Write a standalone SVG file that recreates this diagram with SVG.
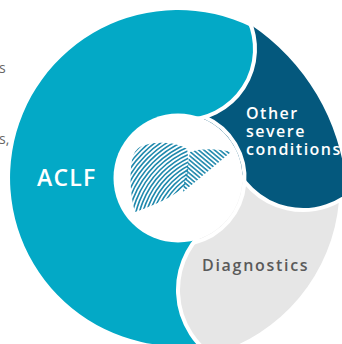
<svg xmlns="http://www.w3.org/2000/svg" width="342" height="344" viewBox="0 0 342 344">
  <style>
    .gap { fill: none; stroke: #ffffff; stroke-width: 4; }
    .lbl { font-family: "Open Sans", "Liberation Sans", sans-serif; font-weight: 600; }
    .side { font-family: "Open Sans", "Liberation Sans", sans-serif; font-size: 14px; fill: #666666; }
    .stripe { fill: none; stroke: #2089ad; stroke-width: 1.6; }
  </style>
  <defs>
    <clipPath id="bigLobeClip">
      <path d="M 140 147 C 152 141 175 141 187 149 C 189 160 189 175 185 186 C 172 198 152 206 135 212 C 130 195 129 170 133 156 C 135 151 137 149 140 147 Z"/>
    </clipPath>
    <pattern id="hatch" width="4" height="3.4" patternUnits="userSpaceOnUse" patternTransform="rotate(40)">
      <rect x="0" y="0" width="4" height="1.6" fill="#2089ad"/>
    </pattern>
  </defs>
  <rect width="342" height="344" fill="#ffffff"/>

  <g id="side-texts">
    <text class="side" x="-1" y="73">s</text>
    <text class="side" x="-1" y="144">s,</text>
  </g>

  <g id="aclf">
    <path fill="#03a9c6" d="M 251.5 26.9 A 168 168 0 1 0 199.6 344.6 A 80 80 0 0 1 212.1 224.5 L 178 178 L 184 120 A 71 71 0 0 0 251.5 26.9 Z"/>
  </g>
  <g id="other-severe-conditions">
    <path fill="#04587d" d="M 184 120 A 71 71 0 0 0 250.7 24.65 A 217 217 0 0 1 346.2 186.1 L 355.3 188.3 A 74 74 0 0 1 231.5 155.2 L 178 178 Z"/>
  </g>
  <g id="diagnostics">
    <path fill="#e6e6e6" d="M 178 178 L 231.5 155.2 A 74 74 0 0 0 339.0 200.7 A 174.6 174.6 0 0 1 210.8 354.5 A 80 80 0 0 1 212.1 224.5 Z"/>
  </g>

  <g id="connectors">
    <path class="gap" d="M 248.86 20.12 A 71 71 0 0 1 184 120"/>
    <path class="gap" d="M 231.5 155.2 A 74 74 0 0 0 359.7 183.6"/>
    <path class="gap" d="M 212.1 224.5 A 80 80 0 0 0 218 359.3"/>
    <path class="gap" d="M 204.5 117 A 66.5 66.5 0 0 1 193.5 242.7"/>
  </g>

  <g id="liver-center">
    <circle cx="178" cy="178" r="64.5" fill="#ffffff"/>
    <g clip-path="url(#bigLobeClip)">
      <circle class="stripe" cx="225" cy="235" r="58"/>
      <circle class="stripe" cx="225" cy="235" r="61.4"/>
      <circle class="stripe" cx="225" cy="235" r="64.8"/>
      <circle class="stripe" cx="225" cy="235" r="68.2"/>
      <circle class="stripe" cx="225" cy="235" r="71.6"/>
      <circle class="stripe" cx="225" cy="235" r="75"/>
      <circle class="stripe" cx="225" cy="235" r="78.4"/>
      <circle class="stripe" cx="225" cy="235" r="81.8"/>
      <circle class="stripe" cx="225" cy="235" r="85.2"/>
      <circle class="stripe" cx="225" cy="235" r="88.6"/>
      <circle class="stripe" cx="225" cy="235" r="92"/>
      <circle class="stripe" cx="225" cy="235" r="95.4"/>
      <circle class="stripe" cx="225" cy="235" r="98.8"/>
      <circle class="stripe" cx="225" cy="235" r="102.2"/>
      <circle class="stripe" cx="225" cy="235" r="105.6"/>
      <circle class="stripe" cx="225" cy="235" r="109"/>
      <circle class="stripe" cx="225" cy="235" r="112.4"/>
      <circle class="stripe" cx="225" cy="235" r="115.8"/>
      <circle class="stripe" cx="225" cy="235" r="119.2"/>
      <circle class="stripe" cx="225" cy="235" r="122.6"/>
      <circle class="stripe" cx="225" cy="235" r="126"/>
    </g>
    <path fill="url(#hatch)" d="M 190 152 C 203 148 218 149 231 152 C 218 163 200 178 183 192 C 184 178 188 164 190 152 Z"/>
  </g>

  <g id="labels">
    <text class="lbl" x="37" y="186" font-size="23" letter-spacing="1.2" fill="#ffffff">ACLF</text>
    <text class="lbl" font-size="16" letter-spacing="1.5" fill="#ffffff">
      <tspan x="246" y="119">Other</tspan>
      <tspan x="246" y="137">severe</tspan>
      <tspan x="246" y="155">conditions</tspan>
    </text>
    <text class="lbl" x="202" y="271" font-size="16" letter-spacing="1.7" fill="#5a5a5a">Diagnostics</text>
  </g>
</svg>
